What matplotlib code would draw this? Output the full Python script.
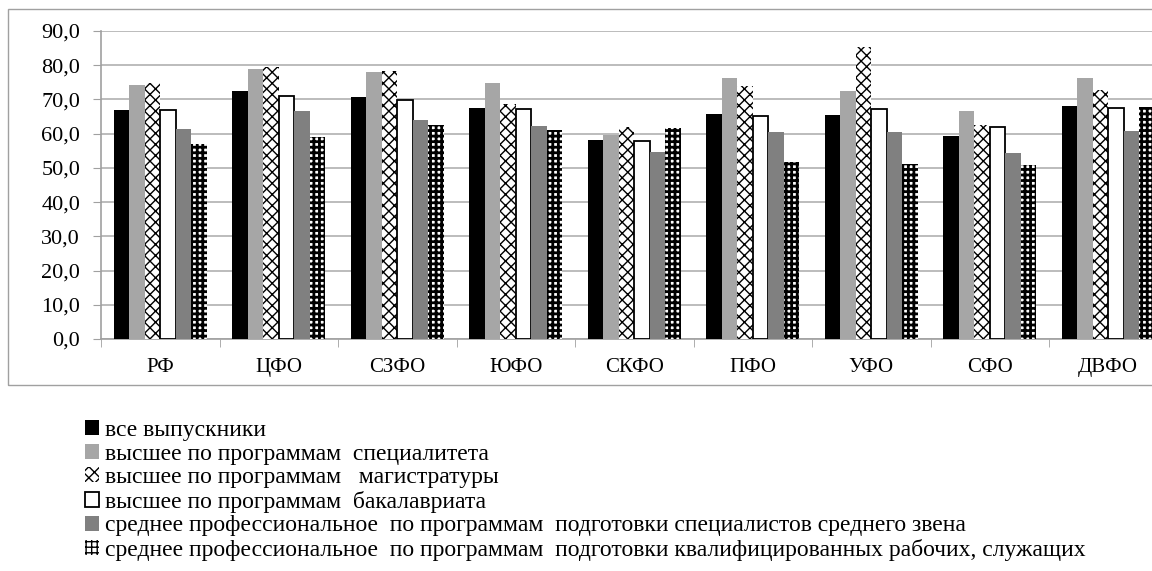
import matplotlib
matplotlib.use("Agg")
import matplotlib.pyplot as plt
import numpy as np
from matplotlib.patches import Rectangle, Patch

categories = ["РФ", "ЦФО", "СЗФО", "ЮФО", "СКФО", "ПФО", "УФО", "СФО", "ДВФО"]
series_labels = [
    "все выпускники",
    "высшее по программам  специалитета",
    "высшее по программам   магистратуры",
    "высшее по программам  бакалавриата",
    "среднее профессиональное  по программам  подготовки специалистов среднего звена",
    "среднее профессиональное  по программам  подготовки квалифицированных рабочих, служащих",
]
all_grads = [67.0, 72.5, 70.6, 67.4, 58.2, 65.7, 65.5, 59.2, 68.0]
specialist = [74.3, 79.0, 78.1, 74.8, 59.5, 76.3, 72.5, 66.6, 76.2]
master = [74.8, 79.4, 78.2, 68.7, 61.9, 73.8, 85.4, 62.6, 72.8]
bachelor = [67.0, 70.9, 69.9, 67.2, 58.0, 65.1, 67.3, 61.9, 67.4]
spo_mid = [61.3, 66.6, 64.0, 62.2, 54.5, 60.6, 60.6, 54.4, 60.9]
spo_workers = [57.0, 59.0, 62.6, 61.1, 61.7, 51.6, 51.2, 50.9, 67.9]
yticks = [0, 10, 20, 30, 40, 50, 60, 70, 80, 90]

series = [all_grads, specialist, master, bachelor, spo_mid, spo_workers]
styles = [
    dict(facecolor="#000000", edgecolor="#000000", linewidth=0),
    dict(facecolor="#a6a6a6", edgecolor="#a6a6a6", linewidth=0),
    dict(facecolor="white", edgecolor="black", hatch="xxx", linewidth=0),
    dict(facecolor="white", edgecolor="black", linewidth=1.3),
    dict(facecolor="#808080", edgecolor="#808080", linewidth=0),
    dict(facecolor="white", edgecolor="black", hatch="+++", linewidth=0),
]
hatch_lw = [1.0, 1.0, 1.0, 1.0, 1.0, 2.0]

plt.rcParams['font.family'] = ['Liberation Serif', 'DejaVu Serif']
plt.rcParams['hatch.linewidth'] = 1.0

fig = plt.figure(figsize=(11.52, 5.71), dpi=100)
W, H = 1152, 571
ax_left, ax_top, ax_bottom = 101, 31, 339
group_w = 118.5
ax_w = group_w * len(categories)
ax = fig.add_axes([ax_left / W, (H - ax_bottom) / H, ax_w / W, (ax_bottom - ax_top) / H])

# outer chart border
fig.patches.append(Rectangle((8 / W, (H - 385) / H), 1.2, (385 - 9) / H,
                             transform=fig.transFigure, fill=False,
                             edgecolor="#a0a0a0", linewidth=1.0, clip_on=False))

x = np.arange(len(categories))
bw = 0.131
n = len(series)
handles = []
for i, (vals, st) in enumerate(zip(series, styles)):
    offs = (i - (n - 1) / 2) * bw
    with plt.rc_context({'hatch.linewidth': hatch_lw[i]}):
        ax.bar(x + offs, vals, width=bw, zorder=3, **st)
        handles.append(Patch(**st))

ax.set_xlim(-0.5, len(categories) - 0.5)
ax.set_ylim(0, 90)
ax.set_yticks(yticks)
ax.set_yticklabels([f"{v:.1f}".replace(".", ",") for v in yticks], fontsize=16)
ax.set_xticks(x)
ax.set_xticklabels(categories, fontsize=15)
ax.set_xticks(np.arange(len(categories) + 1) - 0.5, minor=True)
ax.tick_params(axis="x", which="major", length=0, pad=14)
ax.tick_params(axis="x", which="minor", length=6, color="#a0a0a0", direction="out")
ax.tick_params(axis="y", length=6, color="#a0a0a0", pad=9)
ax.yaxis.grid(True, color="#b0b0b0", linewidth=1.2, zorder=0)
ax.set_axisbelow(True)
for s in ["top", "right"]:
    ax.spines[s].set_visible(False)
for s in ["left", "bottom"]:
    ax.spines[s].set_color("#a0a0a0")
    ax.spines[s].set_linewidth(1.2)

leg = fig.legend(handles, series_labels, loc="upper left",
                 bbox_to_anchor=(85 / W, (H - 420) / H), frameon=False,
                 fontsize=17, handlelength=0.6, handleheight=0.6,
                 handletextpad=0.25, labelspacing=0.11, borderpad=0, borderaxespad=0)

fig.savefig("out.png", dpi=100)
